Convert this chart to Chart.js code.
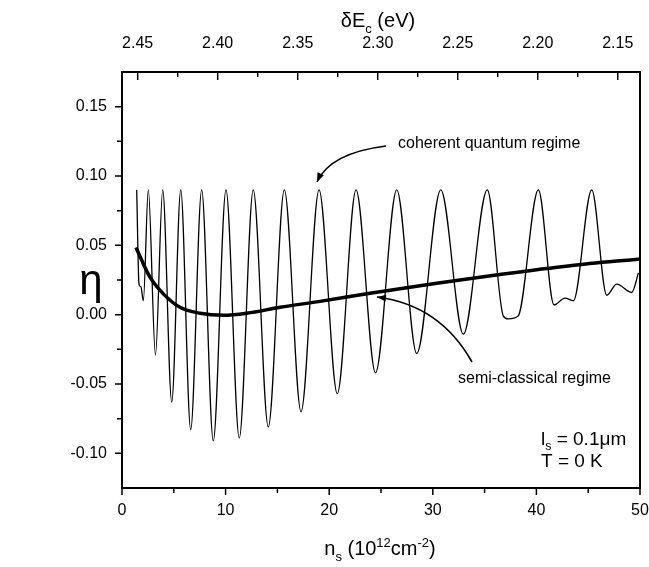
<!DOCTYPE html>
<html>
<head>
<meta charset="utf-8">
<script src="https://cdn.jsdelivr.net/npm/chart.js@4.4.1/dist/chart.umd.min.js"></script>
<style>
  html, body { margin: 0; padding: 0; background: #fff; }
  #wrap { width: 649px; height: 567px; }
</style>
</head>
<body>
<div id="wrap"><canvas id="eta"></canvas></div>
<script>
// valeurs
const nOsc = [1.42, 1.64, 1.83, 2.06, 2.54, 3.23, 3.93, 4.80, 5.67, 6.63, 7.69, 8.81, 10.04, 11.32,
  12.67, 14.12, 15.67, 17.28, 19.02, 20.78, 22.59, 24.47, 26.52, 28.45, 30.77, 32.95, 35.26,
  36.81, 37.29, 38.23, 40.19, 41.70, 42.76, 43.57, 45.34, 46.79, 47.75, 49.20, 49.85];
const etaOsc = [0.090, 0.022, 0.020, 0.010, 0.090, -0.029, 0.090, -0.063, 0.090, -0.083, 0.090, -0.091,
  0.090, -0.089, 0.090, -0.081, 0.090, -0.070, 0.090, -0.057, 0.090, -0.042, 0.090, -0.028, 0.090,
  -0.014, 0.090, -0.001, -0.003, -0.001, 0.090, 0.007, 0.012, 0.010, 0.090, 0.014, 0.022, 0.016, 0.030];

const nSemi = [1.35, 2.70, 3.99, 5.60, 7.53, 9.78, 12.04, 15.25, 19.11, 23.94, 30.38, 36.81, 43.25, 50.0];
const etaSemi = [0.0485, 0.027, 0.015, 0.0053, 0.001, -0.0005, 0.001, 0.0053, 0.0096, 0.0154, 0.0226,
  0.0293, 0.0353, 0.0402];

const xTicks = [0, 10, 20, 30, 40, 50];
const xMinor = [5, 15, 25, 35, 45];
const yTicks = [-0.10, -0.05, 0.00, 0.05, 0.10, 0.15];
const yMinor = [-0.075, -0.025, 0.025, 0.075, 0.125];
const eTicks = [2.45, 2.40, 2.35, 2.30, 2.25, 2.20, 2.15];
const eMinor = [2.425, 2.375, 2.325, 2.275, 2.225, 2.175];

const FONT = "'Liberation Sans', Arial, sans-serif";

function pts(xs, ys) {
  return xs.map((x, i) => ({ x: x, y: ys[i] }));
}

// texte avec indices / exposants
function drawRich(ctx, parts, x, y, size, align) {
  const small = size * 0.65;
  let w = 0;
  parts.forEach(p => {
    ctx.font = (p[1] === "n" ? size : small) + "px " + FONT;
    w += ctx.measureText(p[0]).width;
  });
  let cx = align === "left" ? x : x - w / 2;
  ctx.textBaseline = "alphabetic";
  ctx.textAlign = "left";
  parts.forEach(p => {
    let dy = 0;
    if (p[1] === "sub") dy = size * 0.28;
    if (p[1] === "sup") dy = -size * 0.42;
    ctx.font = (p[1] === "n" ? size : small) + "px " + FONT;
    ctx.fillText(p[0], cx, y + dy);
    cx += ctx.measureText(p[0]).width;
  });
}

function arrow(ctx, x0, y0, cx, cy, x1, y1) {
  ctx.beginPath();
  ctx.moveTo(x0, y0);
  ctx.quadraticCurveTo(cx, cy, x1, y1);
  ctx.lineWidth = 1.6;
  ctx.stroke();
  const a = Math.atan2(y1 - cy, x1 - cx);
  const L = 9, W = 3.5;
  ctx.beginPath();
  ctx.moveTo(x1, y1);
  ctx.lineTo(x1 - L * Math.cos(a) + W * Math.sin(a), y1 - L * Math.sin(a) - W * Math.cos(a));
  ctx.lineTo(x1 - L * Math.cos(a) - W * Math.sin(a), y1 - L * Math.sin(a) + W * Math.cos(a));
  ctx.closePath();
  ctx.fill();
}

const framePlugin = {
  id: "frame",
  afterDraw(chart) {
    const { ctx, chartArea: a, scales } = chart;
    ctx.save();
    ctx.strokeStyle = "#000";
    ctx.fillStyle = "#000";
    ctx.lineWidth = 2;
    ctx.strokeRect(a.left, a.top, a.right - a.left, a.bottom - a.top);

    ctx.lineWidth = 1.5;
    ctx.beginPath();
    // bas : vers l'extérieur
    xTicks.forEach(v => { const p = scales.x.getPixelForValue(v); ctx.moveTo(p, a.bottom); ctx.lineTo(p, a.bottom + 7); });
    xMinor.forEach(v => { const p = scales.x.getPixelForValue(v); ctx.moveTo(p, a.bottom); ctx.lineTo(p, a.bottom + 5); });
    // gauche : vers l'extérieur
    yTicks.forEach(v => { const p = scales.y.getPixelForValue(v); ctx.moveTo(a.left, p); ctx.lineTo(a.left - 7, p); });
    yMinor.forEach(v => { const p = scales.y.getPixelForValue(v); ctx.moveTo(a.left, p); ctx.lineTo(a.left - 5, p); });
    // haut : vers l'intérieur
    eTicks.forEach(v => { const p = scales.x2.getPixelForValue(v); ctx.moveTo(p, a.top); ctx.lineTo(p, a.top + 8); });
    eMinor.forEach(v => { const p = scales.x2.getPixelForValue(v); ctx.moveTo(p, a.top); ctx.lineTo(p, a.top + 5); });
    ctx.stroke();

    // titres des axes
    drawRich(ctx, [["n", "n"], ["s", "sub"], [" (10", "n"], ["12", "sup"], ["cm", "n"], ["-2", "sup"], [")", "n"]], 380, 555, 20);
    drawRich(ctx, [["δE", "n"], ["c", "sub"], [" (eV)", "n"]], 378, 27, 20);
    ctx.font = "42px " + FONT;
    ctx.textAlign = "center";
    ctx.textBaseline = "middle";
    ctx.fillText("η", 91, 282);

    // annotations
    ctx.font = "16px " + FONT;
    ctx.textAlign = "left";
    ctx.textBaseline = "alphabetic";
    ctx.fillText("coherent quantum regime", 398, 148);
    ctx.fillText("semi-classical regime", 458, 383);
    arrow(ctx, 386, 146, 330, 153, 317, 182);
    arrow(ctx, 472, 362, 440, 305, 377, 297);

    drawRich(ctx, [["l", "n"], ["s", "sub"], [" = 0.1μm", "n"]], 541, 445, 19, "left");
    drawRich(ctx, [["T = 0 K", "n"]], 541, 467, 19, "left");
    ctx.restore();
  }
};

Chart.defaults.font.family = FONT;
Chart.defaults.color = "#000";

function noSidePad(s) {
  s.paddingLeft = 0;
  s.paddingRight = 0;
}

new Chart(document.getElementById("eta"), {
  type: "line",
  data: {
    datasets: [
      {
        label: "coherent",
        data: pts(nOsc, etaOsc),
        borderColor: "#000",
        borderWidth: 1.3,
        pointRadius: 0,
        cubicInterpolationMode: "monotone",
        fill: false
      },
      {
        label: "semi-classical",
        data: pts(nSemi, etaSemi),
        borderColor: "#000",
        borderWidth: 3.5,
        pointRadius: 0,
        cubicInterpolationMode: "monotone",
        fill: false
      }
    ]
  },
  options: {
    responsive: true,
    maintainAspectRatio: false,
    animation: false,
    layout: { padding: { left: 0, right: 9, top: 0, bottom: 0 } },
    plugins: { legend: { display: false }, tooltip: { enabled: false } },
    scales: {
      x: {
        type: "linear",
        position: "bottom",
        min: 0,
        max: 50,
        afterBuildTicks: s => { s.ticks = xTicks.map(v => ({ value: v })); },
        afterFit: s => { s.height = 79; noSidePad(s); },
        grid: { display: true, drawOnChartArea: false, drawTicks: false },
        border: { display: false },
        ticks: { padding: 13, font: { size: 16 }, maxRotation: 0 }
      },
      x2: {
        type: "linear",
        position: "top",
        reverse: true,
        min: 2.1361,
        max: 2.4598,
        afterBuildTicks: s => { s.ticks = eTicks.map(v => ({ value: v })); },
        afterFit: s => { s.height = 72; noSidePad(s); },
        grid: { display: true, drawOnChartArea: false, drawTicks: false },
        border: { display: false },
        ticks: { padding: 19, font: { size: 16 }, maxRotation: 0, callback: v => v.toFixed(2) }
      },
      y: {
        type: "linear",
        min: -0.125,
        max: 0.175,
        afterBuildTicks: s => { s.ticks = yTicks.map(v => ({ value: v })); },
        afterFit: s => { s.width = 122; s.paddingTop = 0; s.paddingBottom = 0; },
        grid: { display: true, drawOnChartArea: false, drawTicks: false },
        border: { display: false },
        ticks: { padding: 15, font: { size: 16 }, callback: v => v.toFixed(2) }
      }
    }
  },
  plugins: [framePlugin]
});
</script>
</body>
</html>
